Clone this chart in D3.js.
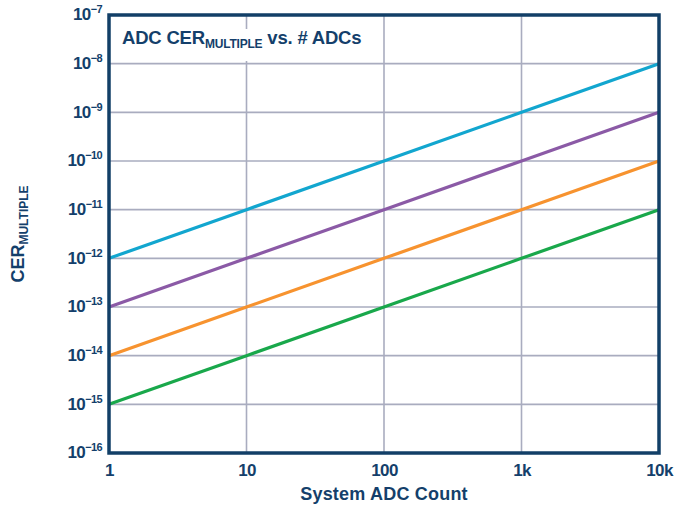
<!DOCTYPE html>
<meta charset="utf-8">
<script src="https://d3js.org/d3.v7.min.js"></script>
<style>
  body { margin: 0; background: #fff; }
  text { font-family: "Liberation Sans", Arial, sans-serif; fill: #143f6b; }
</style>
<body>
<div id="chart"></div>
<script>
// x positions (ADC count) and the value of each line at those counts
var counts = [1, 10, 100, 1000, 10000];
var cyanVals   = [1e-12, 1e-11, 1e-10, 1e-9, 1e-8];
var purpleVals = [1e-13, 1e-12, 1e-11, 1e-10, 1e-9];
var orangeVals = [1e-14, 1e-13, 1e-12, 1e-11, 1e-10];
var greenVals  = [1e-15, 1e-14, 1e-13, 1e-12, 1e-11];
var seriesColors = ["#12a6cf", "#8b5aa6", "#f7932f", "#19a84b"];

var xTicks = [1, 10, 100, 1000, 10000];
var xTickLabels = ["1", "10", "100", "1k", "10k"];
var yExps = [-16, -15, -14, -13, -12, -11, -10, -9, -8, -7];

var margin = {top: 15, right: 19, bottom: 56, left: 109},
    width = 678 - margin.left - margin.right,
    height = 509 - margin.top - margin.bottom;

var svg = d3.select("#chart").append("svg")
    .attr("width", 678).attr("height", 509)
  .append("g")
    .attr("transform", "translate(" + margin.left + "," + margin.top + ")");

var x = d3.scaleLog().domain([1, 10000]).range([0, width]);
var y = d3.scaleLog().domain([1e-16, 1e-7]).range([height, 0]);

// grid
svg.append("g").selectAll("line.v")
  .data(xTicks.slice(1, -1)).enter().append("line")
    .attr("x1", d => x(d)).attr("x2", d => x(d))
    .attr("y1", 0).attr("y2", height)
    .attr("stroke", "#a9acbf").attr("stroke-width", 1.6);
svg.append("g").selectAll("line.h")
  .data(yExps.slice(1, -1)).enter().append("line")
    .attr("x1", 0).attr("x2", width)
    .attr("y1", d => y(Math.pow(10, d))).attr("y2", d => y(Math.pow(10, d)))
    .attr("stroke", "#a9acbf").attr("stroke-width", 1.6);

// title with white backing
svg.append("rect")
  .attr("x", 5).attr("y", 14).attr("width", 266).attr("height", 32)
  .attr("fill", "#fff");
var title = svg.append("text")
  .attr("x", 13).attr("y", 28.5)
  .attr("font-size", 18.5).attr("font-weight", "bold")
  .attr("letter-spacing", -0.2);
title.append("tspan").text("ADC CER");
title.append("tspan").attr("font-size", 12).attr("dy", 4).text("MULTIPLE");
title.append("tspan").attr("dy", -4).text(" vs. # ADCs");

// lines
var line = d3.line()
  .x(d => x(d[0]))
  .y(d => y(d[1]));
[cyanVals, purpleVals, orangeVals, greenVals].forEach(function(vals, i) {
  svg.append("path")
    .datum(counts.map((c, j) => [c, vals[j]]))
    .attr("d", line)
    .attr("fill", "none")
    .attr("stroke", seriesColors[i])
    .attr("stroke-width", 3.2);
});

// frame
svg.append("rect")
  .attr("width", width).attr("height", height)
  .attr("fill", "none").attr("stroke", "#123f67").attr("stroke-width", 3.5);

// x axis
var xAxis = svg.append("g")
  .attr("transform", "translate(0," + height + ")")
  .call(d3.axisBottom(x).tickValues(xTicks)
        .tickFormat((d, i) => xTickLabels[i]).tickSize(0).tickPadding(11));
xAxis.select(".domain").remove();
xAxis.selectAll("text")
  .attr("font-size", 17).attr("font-weight", "bold")
  .attr("font-family", "Liberation Sans, Arial, sans-serif")
  .attr("fill", "#143f6b").attr("letter-spacing", -0.6);

// y axis
var yAxis = svg.append("g")
  .call(d3.axisLeft(y).tickValues(yExps.map(e => Math.pow(10, e)))
        .tickFormat("").tickSize(0).tickPadding(7));
yAxis.select(".domain").remove();
yAxis.selectAll(".tick text")
  .attr("font-size", 17).attr("font-weight", "bold")
  .attr("font-family", "Liberation Sans, Arial, sans-serif")
  .attr("fill", "#143f6b").attr("letter-spacing", -0.6)
  .attr("dy", "0.28em")
  .each(function(d, i) {
    var t = d3.select(this);
    t.append("tspan").text("10");
    t.append("tspan").attr("font-size", 11).attr("dy", -7)
      .text("\u2212" + Math.abs(yExps[i]));
  });

// axis titles
svg.append("text")
  .attr("x", width / 2).attr("y", height + 47)
  .attr("text-anchor", "middle")
  .attr("font-size", 18).attr("font-weight", "bold")
  .attr("letter-spacing", 0.2)
  .text("System ADC Count");

var yt = svg.append("text")
  .attr("transform", "translate(" + (-85) + "," + (height / 2) + ") rotate(-90)")
  .attr("text-anchor", "middle")
  .attr("font-size", 18).attr("font-weight", "bold");
yt.append("tspan").text("CER");
yt.append("tspan").attr("font-size", 12).attr("dy", 4).text("MULTIPLE");
</script>
</body>
